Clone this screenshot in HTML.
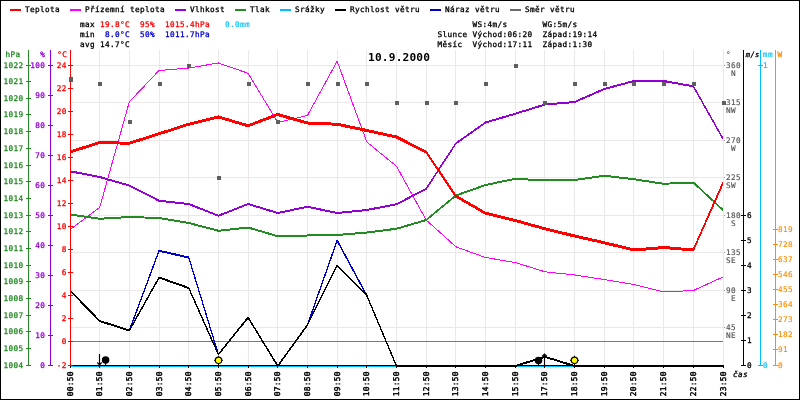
<!DOCTYPE html>
<html lang="cs"><head><meta charset="utf-8"><title>Graf 10.9.2000</title>
<style>html,body{margin:0;padding:0;background:#fff;overflow:hidden}svg{display:block;will-change:transform}text{font-family:"DejaVu Sans Mono","Liberation Mono",monospace;white-space:pre}</style>
</head><body>
<svg width="800" height="400" viewBox="0 0 800 400">
<rect x="0" y="0" width="800" height="400" fill="#fff"/>
<g shape-rendering="crispEdges" stroke="#ece8e8" stroke-width="1">
<line x1="70.5" y1="50" x2="70.5" y2="365"/>
<line x1="99.5" y1="50" x2="99.5" y2="365"/>
<line x1="129.5" y1="50" x2="129.5" y2="365"/>
<line x1="159.5" y1="50" x2="159.5" y2="365"/>
<line x1="188.5" y1="50" x2="188.5" y2="365"/>
<line x1="218.5" y1="50" x2="218.5" y2="365"/>
<line x1="248.5" y1="50" x2="248.5" y2="365"/>
<line x1="277.5" y1="50" x2="277.5" y2="365"/>
<line x1="307.5" y1="50" x2="307.5" y2="365"/>
<line x1="337.5" y1="50" x2="337.5" y2="365"/>
<line x1="366.5" y1="50" x2="366.5" y2="365"/>
<line x1="396.5" y1="50" x2="396.5" y2="365"/>
<line x1="426.5" y1="50" x2="426.5" y2="365"/>
<line x1="455.5" y1="50" x2="455.5" y2="365"/>
<line x1="485.5" y1="50" x2="485.5" y2="365"/>
<line x1="515.5" y1="50" x2="515.5" y2="365"/>
<line x1="544.5" y1="50" x2="544.5" y2="365"/>
<line x1="574.5" y1="50" x2="574.5" y2="365"/>
<line x1="604.5" y1="50" x2="604.5" y2="365"/>
<line x1="633.5" y1="50" x2="633.5" y2="365"/>
<line x1="663.5" y1="50" x2="663.5" y2="365"/>
<line x1="693.5" y1="50" x2="693.5" y2="365"/>
<line x1="723.5" y1="50" x2="723.5" y2="365"/>
<line x1="70" y1="327.5" x2="724" y2="327.5"/>
<line x1="70" y1="290.5" x2="724" y2="290.5"/>
<line x1="70" y1="252.5" x2="724" y2="252.5"/>
<line x1="70" y1="215.5" x2="724" y2="215.5"/>
<line x1="70" y1="177.5" x2="724" y2="177.5"/>
<line x1="70" y1="140.5" x2="724" y2="140.5"/>
<line x1="70" y1="102.5" x2="724" y2="102.5"/>
<line x1="70" y1="65.5" x2="724" y2="65.5"/>
</g>
<line x1="70" y1="341.5" x2="723" y2="341.5" stroke="#7a7a7a" stroke-width="1" shape-rendering="crispEdges"/>
<rect x="70" y="366" width="654" height="1" fill="#00bfff" shape-rendering="crispEdges"/>
<g stroke-linejoin="round" shape-rendering="crispEdges">
<polyline points="70.00,229.50 99.68,207.50 129.36,101.75 159.05,70.50 188.73,68.00 218.41,63.00 248.09,73.25 277.77,122.50 307.45,115.50 337.14,61.25 366.82,142.00 396.50,166.25 426.18,220.00 455.86,246.75 485.55,257.50 515.23,262.50 544.91,271.75 574.59,275.00 604.27,279.50 633.95,284.50 663.64,292.00 693.32,290.50 723.00,277.00" fill="none" stroke="#ff00ff" stroke-width="1"/>
<polygon points="70.00,214.00 99.68,218.25 129.36,216.50 159.05,217.50 188.73,222.50 218.41,230.25 248.09,227.00 277.77,235.75 307.45,235.00 337.14,234.50 366.82,232.00 396.50,228.25 426.18,219.50 455.86,195.00 485.55,184.50 515.23,178.25 544.91,180.00 574.59,179.50 604.27,175.25 633.95,178.75 663.64,183.25 693.32,182.00 723.00,209.50 723.00,210.50 693.32,183.00 663.64,184.25 633.95,179.75 604.27,176.25 574.59,180.50 544.91,181.00 515.23,179.25 485.55,185.50 455.86,196.00 426.18,220.50 396.50,229.25 366.82,233.00 337.14,235.50 307.45,236.00 277.77,236.75 248.09,228.00 218.41,231.25 188.73,223.50 159.05,218.50 129.36,217.50 99.68,219.25 70.00,215.00" fill="#228b22" stroke="#228b22" stroke-width="1"/>
<polygon points="70.00,170.75 99.68,176.50 129.36,185.00 159.05,200.25 188.73,203.50 218.41,215.25 248.09,203.50 277.77,212.50 307.45,206.25 337.14,212.50 366.82,209.50 396.50,203.75 426.18,188.25 455.86,143.00 485.55,122.00 515.23,113.25 544.91,104.00 574.59,101.50 604.27,88.50 633.95,80.50 663.64,80.50 693.32,85.75 723.00,138.25 723.00,139.25 693.32,86.75 663.64,81.50 633.95,81.50 604.27,89.50 574.59,102.50 544.91,105.00 515.23,114.25 485.55,123.00 455.86,144.00 426.18,189.25 396.50,204.75 366.82,210.50 337.14,213.50 307.45,207.25 277.77,213.50 248.09,204.50 218.41,216.25 188.73,204.50 159.05,201.25 129.36,186.00 99.68,177.50 70.00,171.75" fill="#9400d3" stroke="#9400d3" stroke-width="1"/>
<polygon points="70.00,151.00 99.68,141.50 129.36,142.25 159.05,132.75 188.73,123.25 218.41,116.00 248.09,124.75 277.77,113.50 307.45,122.00 337.14,123.25 366.82,129.50 396.50,136.00 426.18,151.00 455.86,195.25 485.55,212.25 515.23,219.50 544.91,227.75 574.59,235.00 604.27,241.75 633.95,249.00 663.64,246.50 693.32,249.00 723.00,182.00 723.00,184.00 693.32,251.00 663.64,248.50 633.95,251.00 604.27,243.75 574.59,237.00 544.91,229.75 515.23,221.50 485.55,214.25 455.86,197.25 426.18,153.00 396.50,138.00 366.82,131.50 337.14,125.25 307.45,124.00 277.77,115.50 248.09,126.75 218.41,118.00 188.73,125.25 159.05,134.75 129.36,144.25 99.68,143.50 70.00,153.00" fill="#ff0000" stroke="#ff0000" stroke-width="1"/>
<polygon points="129.36,330.00 159.05,250.25 188.73,257.00 218.41,354.00 218.41,355.00 188.73,258.00 159.05,251.25 129.36,331.00" fill="#0000cd" stroke="#0000cd" stroke-width="1"/>
<polygon points="307.45,324.50 337.14,240.00 366.82,295.00 366.82,296.00 337.14,241.00 307.45,325.50" fill="#0000cd" stroke="#0000cd" stroke-width="1"/>
<polygon points="70.00,290.00 99.68,320.50 129.36,330.00 159.05,277.00 188.73,287.50 218.41,354.00 248.09,317.00 277.77,365.50 307.45,324.50 337.14,265.00 366.82,295.00 396.50,365.50 426.18,365.50 455.86,365.50 485.55,365.50 515.23,365.50 544.91,356.30 574.59,365.50 604.27,365.50 633.95,365.50 663.64,365.50 693.32,365.50 723.00,365.50 723.00,366.50 693.32,366.50 663.64,366.50 633.95,366.50 604.27,366.50 574.59,366.50 544.91,357.30 515.23,366.50 485.55,366.50 455.86,366.50 426.18,366.50 396.50,366.50 366.82,296.00 337.14,266.00 307.45,325.50 277.77,366.50 248.09,318.00 218.41,355.00 188.73,288.50 159.05,278.00 129.36,331.00 99.68,321.50 70.00,291.00" fill="#000" stroke="#000" stroke-width="1"/>
</g>
<rect x="396" y="365" width="120" height="2" fill="#000" shape-rendering="crispEdges"/>
<rect x="574" y="365" width="150" height="2" fill="#000" shape-rendering="crispEdges"/>
<g shape-rendering="crispEdges" stroke="#000" stroke-width="1">
<line x1="70" y1="365.5" x2="724" y2="365.5"/>
<line x1="70.5" y1="365" x2="70.5" y2="368"/>
<line x1="99.5" y1="365" x2="99.5" y2="368"/>
<line x1="129.5" y1="365" x2="129.5" y2="368"/>
<line x1="159.5" y1="365" x2="159.5" y2="368"/>
<line x1="188.5" y1="365" x2="188.5" y2="368"/>
<line x1="218.5" y1="365" x2="218.5" y2="368"/>
<line x1="248.5" y1="365" x2="248.5" y2="368"/>
<line x1="277.5" y1="365" x2="277.5" y2="368"/>
<line x1="307.5" y1="365" x2="307.5" y2="368"/>
<line x1="337.5" y1="365" x2="337.5" y2="368"/>
<line x1="366.5" y1="365" x2="366.5" y2="368"/>
<line x1="396.5" y1="365" x2="396.5" y2="368"/>
<line x1="426.5" y1="365" x2="426.5" y2="368"/>
<line x1="455.5" y1="365" x2="455.5" y2="368"/>
<line x1="485.5" y1="365" x2="485.5" y2="368"/>
<line x1="515.5" y1="365" x2="515.5" y2="368"/>
<line x1="544.5" y1="365" x2="544.5" y2="368"/>
<line x1="574.5" y1="365" x2="574.5" y2="368"/>
<line x1="604.5" y1="365" x2="604.5" y2="368"/>
<line x1="633.5" y1="365" x2="633.5" y2="368"/>
<line x1="663.5" y1="365" x2="663.5" y2="368"/>
<line x1="693.5" y1="365" x2="693.5" y2="368"/>
<line x1="723.5" y1="365" x2="723.5" y2="368"/>
</g>
<g shape-rendering="crispEdges" stroke="#228b22" stroke-width="1">
<line x1="28.5" y1="50" x2="28.5" y2="366"/>
<line x1="26" y1="365.5" x2="31" y2="365.5"/>
<line x1="26" y1="348.5" x2="31" y2="348.5"/>
<line x1="26" y1="331.5" x2="31" y2="331.5"/>
<line x1="26" y1="315.5" x2="31" y2="315.5"/>
<line x1="26" y1="298.5" x2="31" y2="298.5"/>
<line x1="26" y1="281.5" x2="31" y2="281.5"/>
<line x1="26" y1="265.5" x2="31" y2="265.5"/>
<line x1="26" y1="248.5" x2="31" y2="248.5"/>
<line x1="26" y1="231.5" x2="31" y2="231.5"/>
<line x1="26" y1="215.5" x2="31" y2="215.5"/>
<line x1="26" y1="198.5" x2="31" y2="198.5"/>
<line x1="26" y1="181.5" x2="31" y2="181.5"/>
<line x1="26" y1="165.5" x2="31" y2="165.5"/>
<line x1="26" y1="148.5" x2="31" y2="148.5"/>
<line x1="26" y1="131.5" x2="31" y2="131.5"/>
<line x1="26" y1="114.5" x2="31" y2="114.5"/>
<line x1="26" y1="98.5" x2="31" y2="98.5"/>
<line x1="26" y1="81.5" x2="31" y2="81.5"/>
<line x1="26" y1="65.5" x2="31" y2="65.5"/>
</g>
<text x="3.56 8.56 13.56 18.56" y="367.90" fill="#228b22" font-weight="normal" stroke="#228b22" stroke-width="0.3" font-size="7.7">1004</text>
<text x="3.56 8.56 13.56 18.56" y="350.90" fill="#228b22" font-weight="normal" stroke="#228b22" stroke-width="0.3" font-size="7.7">1005</text>
<text x="3.56 8.56 13.56 18.56" y="333.90" fill="#228b22" font-weight="normal" stroke="#228b22" stroke-width="0.3" font-size="7.7">1006</text>
<text x="3.56 8.56 13.56 18.56" y="317.90" fill="#228b22" font-weight="normal" stroke="#228b22" stroke-width="0.3" font-size="7.7">1007</text>
<text x="3.56 8.56 13.56 18.56" y="300.90" fill="#228b22" font-weight="normal" stroke="#228b22" stroke-width="0.3" font-size="7.7">1008</text>
<text x="3.56 8.56 13.56 18.56" y="283.90" fill="#228b22" font-weight="normal" stroke="#228b22" stroke-width="0.3" font-size="7.7">1009</text>
<text x="3.56 8.56 13.56 18.56" y="267.90" fill="#228b22" font-weight="normal" stroke="#228b22" stroke-width="0.3" font-size="7.7">1010</text>
<text x="3.56 8.56 13.56 18.56" y="250.90" fill="#228b22" font-weight="normal" stroke="#228b22" stroke-width="0.3" font-size="7.7">1011</text>
<text x="3.56 8.56 13.56 18.56" y="233.90" fill="#228b22" font-weight="normal" stroke="#228b22" stroke-width="0.3" font-size="7.7">1012</text>
<text x="3.56 8.56 13.56 18.56" y="217.90" fill="#228b22" font-weight="normal" stroke="#228b22" stroke-width="0.3" font-size="7.7">1013</text>
<text x="3.56 8.56 13.56 18.56" y="200.90" fill="#228b22" font-weight="normal" stroke="#228b22" stroke-width="0.3" font-size="7.7">1014</text>
<text x="3.56 8.56 13.56 18.56" y="183.90" fill="#228b22" font-weight="normal" stroke="#228b22" stroke-width="0.3" font-size="7.7">1015</text>
<text x="3.56 8.56 13.56 18.56" y="167.90" fill="#228b22" font-weight="normal" stroke="#228b22" stroke-width="0.3" font-size="7.7">1016</text>
<text x="3.56 8.56 13.56 18.56" y="150.90" fill="#228b22" font-weight="normal" stroke="#228b22" stroke-width="0.3" font-size="7.7">1017</text>
<text x="3.56 8.56 13.56 18.56" y="133.90" fill="#228b22" font-weight="normal" stroke="#228b22" stroke-width="0.3" font-size="7.7">1018</text>
<text x="3.56 8.56 13.56 18.56" y="116.90" fill="#228b22" font-weight="normal" stroke="#228b22" stroke-width="0.3" font-size="7.7">1019</text>
<text x="3.56 8.56 13.56 18.56" y="100.90" fill="#228b22" font-weight="normal" stroke="#228b22" stroke-width="0.3" font-size="7.7">1020</text>
<text x="3.56 8.56 13.56 18.56" y="83.90" fill="#228b22" font-weight="normal" stroke="#228b22" stroke-width="0.3" font-size="7.7">1021</text>
<text x="3.56 8.56 13.56 18.56" y="67.90" fill="#228b22" font-weight="normal" stroke="#228b22" stroke-width="0.3" font-size="7.7">1022</text>
<g shape-rendering="crispEdges" stroke="#9400d3" stroke-width="1">
<line x1="50.5" y1="50" x2="50.5" y2="366"/>
<line x1="48" y1="365.5" x2="53" y2="365.5"/>
<line x1="48" y1="335.5" x2="53" y2="335.5"/>
<line x1="48" y1="305.5" x2="53" y2="305.5"/>
<line x1="48" y1="275.5" x2="53" y2="275.5"/>
<line x1="48" y1="245.5" x2="53" y2="245.5"/>
<line x1="48" y1="215.5" x2="53" y2="215.5"/>
<line x1="48" y1="185.5" x2="53" y2="185.5"/>
<line x1="48" y1="155.5" x2="53" y2="155.5"/>
<line x1="48" y1="125.5" x2="53" y2="125.5"/>
<line x1="48" y1="95.5" x2="53" y2="95.5"/>
<line x1="48" y1="65.5" x2="53" y2="65.5"/>
</g>
<text x="40.26" y="367.90" fill="#9400d3" font-weight="normal" stroke="#9400d3" stroke-width="0.3" font-size="7.7">0</text>
<text x="35.26 40.26" y="337.90" fill="#9400d3" font-weight="normal" stroke="#9400d3" stroke-width="0.3" font-size="7.7">10</text>
<text x="35.26 40.26" y="307.90" fill="#9400d3" font-weight="normal" stroke="#9400d3" stroke-width="0.3" font-size="7.7">20</text>
<text x="35.26 40.26" y="277.90" fill="#9400d3" font-weight="normal" stroke="#9400d3" stroke-width="0.3" font-size="7.7">30</text>
<text x="35.26 40.26" y="247.90" fill="#9400d3" font-weight="normal" stroke="#9400d3" stroke-width="0.3" font-size="7.7">40</text>
<text x="35.26 40.26" y="217.90" fill="#9400d3" font-weight="normal" stroke="#9400d3" stroke-width="0.3" font-size="7.7">50</text>
<text x="35.26 40.26" y="187.90" fill="#9400d3" font-weight="normal" stroke="#9400d3" stroke-width="0.3" font-size="7.7">60</text>
<text x="35.26 40.26" y="157.90" fill="#9400d3" font-weight="normal" stroke="#9400d3" stroke-width="0.3" font-size="7.7">70</text>
<text x="35.26 40.26" y="127.90" fill="#9400d3" font-weight="normal" stroke="#9400d3" stroke-width="0.3" font-size="7.7">80</text>
<text x="35.26 40.26" y="97.90" fill="#9400d3" font-weight="normal" stroke="#9400d3" stroke-width="0.3" font-size="7.7">90</text>
<text x="30.26 35.26 40.26" y="67.90" fill="#9400d3" font-weight="normal" stroke="#9400d3" stroke-width="0.3" font-size="7.7">100</text>
<g shape-rendering="crispEdges" stroke="#ff0000" stroke-width="1">
<line x1="70.5" y1="50" x2="70.5" y2="366"/>
<line x1="68" y1="365.5" x2="73" y2="365.5"/>
<line x1="68" y1="341.5" x2="73" y2="341.5"/>
<line x1="68" y1="318.5" x2="73" y2="318.5"/>
<line x1="68" y1="295.5" x2="73" y2="295.5"/>
<line x1="68" y1="272.5" x2="73" y2="272.5"/>
<line x1="68" y1="249.5" x2="73" y2="249.5"/>
<line x1="68" y1="226.5" x2="73" y2="226.5"/>
<line x1="68" y1="203.5" x2="73" y2="203.5"/>
<line x1="68" y1="180.5" x2="73" y2="180.5"/>
<line x1="68" y1="157.5" x2="73" y2="157.5"/>
<line x1="68" y1="134.5" x2="73" y2="134.5"/>
<line x1="68" y1="111.5" x2="73" y2="111.5"/>
<line x1="68" y1="88.5" x2="73" y2="88.5"/>
<line x1="68" y1="65.5" x2="73" y2="65.5"/>
</g>
<text x="56.86 61.86" y="367.90" fill="#ff0000" font-weight="normal" stroke="#ff0000" stroke-width="0.3" font-size="7.7">-2</text>
<text x="61.86" y="343.90" fill="#ff0000" font-weight="normal" stroke="#ff0000" stroke-width="0.3" font-size="7.7">0</text>
<text x="61.86" y="320.90" fill="#ff0000" font-weight="normal" stroke="#ff0000" stroke-width="0.3" font-size="7.7">2</text>
<text x="61.86" y="297.90" fill="#ff0000" font-weight="normal" stroke="#ff0000" stroke-width="0.3" font-size="7.7">4</text>
<text x="61.86" y="274.90" fill="#ff0000" font-weight="normal" stroke="#ff0000" stroke-width="0.3" font-size="7.7">6</text>
<text x="61.86" y="251.90" fill="#ff0000" font-weight="normal" stroke="#ff0000" stroke-width="0.3" font-size="7.7">8</text>
<text x="56.86 61.86" y="228.90" fill="#ff0000" font-weight="normal" stroke="#ff0000" stroke-width="0.3" font-size="7.7">10</text>
<text x="56.86 61.86" y="205.90" fill="#ff0000" font-weight="normal" stroke="#ff0000" stroke-width="0.3" font-size="7.7">12</text>
<text x="56.86 61.86" y="182.90" fill="#ff0000" font-weight="normal" stroke="#ff0000" stroke-width="0.3" font-size="7.7">14</text>
<text x="56.86 61.86" y="159.90" fill="#ff0000" font-weight="normal" stroke="#ff0000" stroke-width="0.3" font-size="7.7">16</text>
<text x="56.86 61.86" y="136.90" fill="#ff0000" font-weight="normal" stroke="#ff0000" stroke-width="0.3" font-size="7.7">18</text>
<text x="56.86 61.86" y="113.90" fill="#ff0000" font-weight="normal" stroke="#ff0000" stroke-width="0.3" font-size="7.7">20</text>
<text x="56.86 61.86" y="90.90" fill="#ff0000" font-weight="normal" stroke="#ff0000" stroke-width="0.3" font-size="7.7">22</text>
<text x="56.86 61.86" y="67.90" fill="#ff0000" font-weight="normal" stroke="#ff0000" stroke-width="0.3" font-size="7.7">24</text>
<text x="5.50 10.50 15.50" y="56.80" fill="#228b22" font-weight="normal" stroke="#228b22" stroke-width="0.3" font-size="7.7">hPa</text>
<text x="40.30" y="56.80" fill="#9400d3" font-weight="normal" stroke="#9400d3" stroke-width="0.3" font-size="7.7">%</text>
<text x="57.30 62.30" y="56.80" fill="#ff0000" font-weight="normal" stroke="#ff0000" stroke-width="0.3" font-size="7.7">°C</text>
<g shape-rendering="crispEdges" stroke="#ece8e8" stroke-width="1">
<line x1="723.5" y1="50" x2="723.5" y2="365"/>
</g>
<rect x="724" y="327" width="1" height="1" fill="#999" shape-rendering="crispEdges"/>
<text x="726.00 731.00" y="329.90" fill="#555" font-weight="normal" stroke="#555" stroke-width="0.15" font-size="7.7">45</text>
<text x="726.06 731.06" y="337.90" fill="#555" font-weight="normal" stroke="#555" stroke-width="0.15" font-size="7.7">NE</text>
<rect x="724" y="290" width="1" height="1" fill="#999" shape-rendering="crispEdges"/>
<text x="726.00 731.00" y="292.90" fill="#555" font-weight="normal" stroke="#555" stroke-width="0.15" font-size="7.7">90</text>
<text x="731.06" y="300.90" fill="#555" font-weight="normal" stroke="#555" stroke-width="0.15" font-size="7.7">E</text>
<rect x="724" y="252" width="1" height="1" fill="#999" shape-rendering="crispEdges"/>
<text x="726.00 731.00 736.00" y="254.90" fill="#555" font-weight="normal" stroke="#555" stroke-width="0.15" font-size="7.7">135</text>
<text x="726.06 731.06" y="262.90" fill="#555" font-weight="normal" stroke="#555" stroke-width="0.15" font-size="7.7">SE</text>
<rect x="724" y="215" width="1" height="1" fill="#999" shape-rendering="crispEdges"/>
<text x="726.00 731.00 736.00" y="217.90" fill="#555" font-weight="normal" stroke="#555" stroke-width="0.15" font-size="7.7">180</text>
<text x="731.06" y="225.90" fill="#555" font-weight="normal" stroke="#555" stroke-width="0.15" font-size="7.7">S</text>
<rect x="724" y="177" width="1" height="1" fill="#999" shape-rendering="crispEdges"/>
<text x="726.00 731.00 736.00" y="179.90" fill="#555" font-weight="normal" stroke="#555" stroke-width="0.15" font-size="7.7">225</text>
<text x="726.06 731.06" y="187.90" fill="#555" font-weight="normal" stroke="#555" stroke-width="0.15" font-size="7.7">SW</text>
<rect x="724" y="140" width="1" height="1" fill="#999" shape-rendering="crispEdges"/>
<text x="726.00 731.00 736.00" y="142.90" fill="#555" font-weight="normal" stroke="#555" stroke-width="0.15" font-size="7.7">270</text>
<text x="731.06" y="150.90" fill="#555" font-weight="normal" stroke="#555" stroke-width="0.15" font-size="7.7">W</text>
<rect x="724" y="102" width="1" height="1" fill="#999" shape-rendering="crispEdges"/>
<text x="726.00 731.00 736.00" y="104.90" fill="#555" font-weight="normal" stroke="#555" stroke-width="0.15" font-size="7.7">315</text>
<text x="726.06 731.06" y="112.90" fill="#555" font-weight="normal" stroke="#555" stroke-width="0.15" font-size="7.7">NW</text>
<rect x="724" y="65" width="1" height="1" fill="#999" shape-rendering="crispEdges"/>
<text x="726.00 731.00 736.00" y="67.90" fill="#555" font-weight="normal" stroke="#555" stroke-width="0.15" font-size="7.7">360</text>
<text x="731.06" y="75.90" fill="#555" font-weight="normal" stroke="#555" stroke-width="0.15" font-size="7.7">N</text>
<text x="726.00" y="57.00" fill="#555" font-weight="normal" stroke="#555" stroke-width="0.15" font-size="7.7">°</text>
<g shape-rendering="crispEdges" stroke="#000" stroke-width="1">
<line x1="743.5" y1="50" x2="743.5" y2="366"/>
<line x1="741" y1="365.5" x2="746" y2="365.5"/>
<line x1="741" y1="340.5" x2="746" y2="340.5"/>
<line x1="741" y1="315.5" x2="746" y2="315.5"/>
<line x1="741" y1="290.5" x2="746" y2="290.5"/>
<line x1="741" y1="265.5" x2="746" y2="265.5"/>
<line x1="741" y1="240.5" x2="746" y2="240.5"/>
<line x1="741" y1="215.5" x2="746" y2="215.5"/>
</g>
<text x="747.00" y="367.90" fill="#000" font-weight="normal" stroke="#000" stroke-width="0.3" font-size="7.7">0</text>
<text x="747.00" y="342.90" fill="#000" font-weight="normal" stroke="#000" stroke-width="0.3" font-size="7.7">1</text>
<text x="747.00" y="317.90" fill="#000" font-weight="normal" stroke="#000" stroke-width="0.3" font-size="7.7">2</text>
<text x="747.00" y="292.90" fill="#000" font-weight="normal" stroke="#000" stroke-width="0.3" font-size="7.7">3</text>
<text x="747.00" y="267.90" fill="#000" font-weight="normal" stroke="#000" stroke-width="0.3" font-size="7.7">4</text>
<text x="747.00" y="242.90" fill="#000" font-weight="normal" stroke="#000" stroke-width="0.3" font-size="7.7">5</text>
<text x="747.00" y="217.90" fill="#000" font-weight="normal" stroke="#000" stroke-width="0.3" font-size="7.7">6</text>
<g shape-rendering="crispEdges" stroke="#00bfff" stroke-width="1">
<line x1="760.5" y1="50" x2="760.5" y2="366"/>
<line x1="758" y1="365.5" x2="763" y2="365.5"/>
<line x1="758" y1="65.5" x2="763" y2="65.5"/>
</g>
<text x="763.00" y="367.90" fill="#00bfff" font-weight="normal" stroke="#00bfff" stroke-width="0.15" font-size="7.7">0</text>
<text x="763.00" y="67.90" fill="#00bfff" font-weight="normal" stroke="#00bfff" stroke-width="0.15" font-size="7.7">1</text>
<g shape-rendering="crispEdges" stroke="#ff8c00" stroke-width="1">
<line x1="775.5" y1="50" x2="775.5" y2="366"/>
<line x1="773" y1="365.5" x2="778" y2="365.5"/>
<line x1="773" y1="349.5" x2="778" y2="349.5"/>
<line x1="773" y1="334.5" x2="778" y2="334.5"/>
<line x1="773" y1="319.5" x2="778" y2="319.5"/>
<line x1="773" y1="304.5" x2="778" y2="304.5"/>
<line x1="773" y1="289.5" x2="778" y2="289.5"/>
<line x1="773" y1="274.5" x2="778" y2="274.5"/>
<line x1="773" y1="259.5" x2="778" y2="259.5"/>
<line x1="773" y1="244.5" x2="778" y2="244.5"/>
<line x1="773" y1="229.5" x2="778" y2="229.5"/>
</g>
<text x="778.00" y="367.90" fill="#ff8c00" font-weight="normal" stroke="#ff8c00" stroke-width="0.15" font-size="7.7">0</text>
<text x="778.00 783.00" y="351.90" fill="#ff8c00" font-weight="normal" stroke="#ff8c00" stroke-width="0.15" font-size="7.7">91</text>
<text x="778.00 783.00 788.00" y="336.90" fill="#ff8c00" font-weight="normal" stroke="#ff8c00" stroke-width="0.15" font-size="7.7">182</text>
<text x="778.00 783.00 788.00" y="321.90" fill="#ff8c00" font-weight="normal" stroke="#ff8c00" stroke-width="0.15" font-size="7.7">273</text>
<text x="778.00 783.00 788.00" y="306.90" fill="#ff8c00" font-weight="normal" stroke="#ff8c00" stroke-width="0.15" font-size="7.7">364</text>
<text x="778.00 783.00 788.00" y="291.90" fill="#ff8c00" font-weight="normal" stroke="#ff8c00" stroke-width="0.15" font-size="7.7">455</text>
<text x="778.00 783.00 788.00" y="276.90" fill="#ff8c00" font-weight="normal" stroke="#ff8c00" stroke-width="0.15" font-size="7.7">546</text>
<text x="778.00 783.00 788.00" y="261.90" fill="#ff8c00" font-weight="normal" stroke="#ff8c00" stroke-width="0.15" font-size="7.7">637</text>
<text x="778.00 783.00 788.00" y="246.90" fill="#ff8c00" font-weight="normal" stroke="#ff8c00" stroke-width="0.15" font-size="7.7">728</text>
<text x="778.00 783.00 788.00" y="231.90" fill="#ff8c00" font-weight="normal" stroke="#ff8c00" stroke-width="0.15" font-size="7.7">819</text>
<text x="745.80 750.40 755.00" y="57.00" fill="#000" font-weight="normal" stroke="#000" stroke-width="0.3" font-size="7.2" font-style="italic">m/s</text>
<text x="762.80 768.00" y="57.00" fill="#00bfff" font-weight="normal" stroke="#00bfff" stroke-width="0.15" font-size="7.7">mm</text>
<text x="777.50" y="57.00" fill="#ff8c00" font-weight="normal" stroke="#ff8c00" stroke-width="0.3" font-size="7.7">W</text>
<text x="733.00 738.00 743.00" y="376.80" fill="#000" font-weight="normal" stroke="#000" stroke-width="0.3" font-size="7.7" font-style="italic">čas</text>
<g fill="#5f5f5f" shape-rendering="crispEdges">
<rect x="69" y="77" width="4" height="5"/>
<rect x="98" y="82" width="4" height="4"/>
<rect x="128" y="120" width="4" height="4"/>
<rect x="158" y="82" width="4" height="4"/>
<rect x="187" y="64" width="4" height="4"/>
<rect x="217" y="176" width="4" height="4"/>
<rect x="247" y="82" width="4" height="4"/>
<rect x="276" y="120" width="4" height="4"/>
<rect x="306" y="82" width="4" height="4"/>
<rect x="336" y="82" width="4" height="4"/>
<rect x="365" y="82" width="4" height="4"/>
<rect x="395" y="101" width="4" height="4"/>
<rect x="425" y="101" width="4" height="4"/>
<rect x="454" y="101" width="4" height="4"/>
<rect x="484" y="82" width="4" height="4"/>
<rect x="514" y="64" width="4" height="4"/>
<rect x="543" y="101" width="4" height="4"/>
<rect x="573" y="82" width="4" height="4"/>
<rect x="603" y="82" width="4" height="4"/>
<rect x="632" y="82" width="4" height="4"/>
<rect x="662" y="82" width="4" height="4"/>
<rect x="692" y="82" width="4" height="4"/>
<rect x="722" y="101" width="4" height="4"/>
</g>
<text transform="translate(73.1,396.3) rotate(-90)" x="0.00 5.00 10.00 15.00 20.00" y="0" fill="#000" stroke="#000" stroke-width="0.45" font-size="7.9">00:50</text>
<text transform="translate(102.1,396.3) rotate(-90)" x="0.00 5.00 10.00 15.00 20.00" y="0" fill="#000" stroke="#000" stroke-width="0.45" font-size="7.9">01:50</text>
<text transform="translate(132.1,396.3) rotate(-90)" x="0.00 5.00 10.00 15.00 20.00" y="0" fill="#000" stroke="#000" stroke-width="0.45" font-size="7.9">02:50</text>
<text transform="translate(162.1,396.3) rotate(-90)" x="0.00 5.00 10.00 15.00 20.00" y="0" fill="#000" stroke="#000" stroke-width="0.45" font-size="7.9">03:50</text>
<text transform="translate(191.1,396.3) rotate(-90)" x="0.00 5.00 10.00 15.00 20.00" y="0" fill="#000" stroke="#000" stroke-width="0.45" font-size="7.9">04:50</text>
<text transform="translate(221.1,396.3) rotate(-90)" x="0.00 5.00 10.00 15.00 20.00" y="0" fill="#000" stroke="#000" stroke-width="0.45" font-size="7.9">05:50</text>
<text transform="translate(251.1,396.3) rotate(-90)" x="0.00 5.00 10.00 15.00 20.00" y="0" fill="#000" stroke="#000" stroke-width="0.45" font-size="7.9">06:50</text>
<text transform="translate(280.1,396.3) rotate(-90)" x="0.00 5.00 10.00 15.00 20.00" y="0" fill="#000" stroke="#000" stroke-width="0.45" font-size="7.9">07:50</text>
<text transform="translate(310.1,396.3) rotate(-90)" x="0.00 5.00 10.00 15.00 20.00" y="0" fill="#000" stroke="#000" stroke-width="0.45" font-size="7.9">08:50</text>
<text transform="translate(340.1,396.3) rotate(-90)" x="0.00 5.00 10.00 15.00 20.00" y="0" fill="#000" stroke="#000" stroke-width="0.45" font-size="7.9">09:50</text>
<text transform="translate(369.1,396.3) rotate(-90)" x="0.00 5.00 10.00 15.00 20.00" y="0" fill="#000" stroke="#000" stroke-width="0.45" font-size="7.9">10:50</text>
<text transform="translate(399.1,396.3) rotate(-90)" x="0.00 5.00 10.00 15.00 20.00" y="0" fill="#000" stroke="#000" stroke-width="0.45" font-size="7.9">11:50</text>
<text transform="translate(429.1,396.3) rotate(-90)" x="0.00 5.00 10.00 15.00 20.00" y="0" fill="#000" stroke="#000" stroke-width="0.45" font-size="7.9">12:50</text>
<text transform="translate(458.1,396.3) rotate(-90)" x="0.00 5.00 10.00 15.00 20.00" y="0" fill="#000" stroke="#000" stroke-width="0.45" font-size="7.9">13:50</text>
<text transform="translate(488.1,396.3) rotate(-90)" x="0.00 5.00 10.00 15.00 20.00" y="0" fill="#000" stroke="#000" stroke-width="0.45" font-size="7.9">14:50</text>
<text transform="translate(518.1,396.3) rotate(-90)" x="0.00 5.00 10.00 15.00 20.00" y="0" fill="#000" stroke="#000" stroke-width="0.45" font-size="7.9">15:50</text>
<text transform="translate(547.1,396.3) rotate(-90)" x="0.00 5.00 10.00 15.00 20.00" y="0" fill="#000" stroke="#000" stroke-width="0.45" font-size="7.9">17:50</text>
<text transform="translate(577.1,396.3) rotate(-90)" x="0.00 5.00 10.00 15.00 20.00" y="0" fill="#000" stroke="#000" stroke-width="0.45" font-size="7.9">18:50</text>
<text transform="translate(607.1,396.3) rotate(-90)" x="0.00 5.00 10.00 15.00 20.00" y="0" fill="#000" stroke="#000" stroke-width="0.45" font-size="7.9">19:50</text>
<text transform="translate(636.1,396.3) rotate(-90)" x="0.00 5.00 10.00 15.00 20.00" y="0" fill="#000" stroke="#000" stroke-width="0.45" font-size="7.9">20:50</text>
<text transform="translate(666.1,396.3) rotate(-90)" x="0.00 5.00 10.00 15.00 20.00" y="0" fill="#000" stroke="#000" stroke-width="0.45" font-size="7.9">21:50</text>
<text transform="translate(696.1,396.3) rotate(-90)" x="0.00 5.00 10.00 15.00 20.00" y="0" fill="#000" stroke="#000" stroke-width="0.45" font-size="7.9">22:50</text>
<text transform="translate(726.1,396.3) rotate(-90)" x="0.00 5.00 10.00 15.00 20.00" y="0" fill="#000" stroke="#000" stroke-width="0.45" font-size="7.9">23:50</text>
<rect x="10" y="9" width="11" height="2" fill="#ff0000" shape-rendering="crispEdges"/>
<text x="25.00 30.00 35.00 40.00 45.00 50.00 55.00" y="11.80" fill="#000" font-weight="normal" stroke="#000" stroke-width="0.3" font-size="7.7">Teplota</text>
<rect x="70" y="9" width="11" height="2" fill="#ff00ff" shape-rendering="crispEdges"/>
<text x="85.00 90.00 95.00 100.00 105.00 110.00 115.00 120.00 125.00 130.00 135.00 140.00 145.00 150.00 155.00 160.00" y="11.80" fill="#000" font-weight="normal" stroke="#000" stroke-width="0.3" font-size="7.7">Přízemní teplota</text>
<rect x="175" y="9" width="11" height="2" fill="#9400d3" shape-rendering="crispEdges"/>
<text x="190.00 195.00 200.00 205.00 210.00 215.00 220.00" y="11.80" fill="#000" font-weight="normal" stroke="#000" stroke-width="0.3" font-size="7.7">Vlhkost</text>
<rect x="235" y="9" width="11" height="2" fill="#228b22" shape-rendering="crispEdges"/>
<text x="250.00 255.00 260.00 265.00" y="11.80" fill="#000" font-weight="normal" stroke="#000" stroke-width="0.3" font-size="7.7">Tlak</text>
<rect x="280" y="9" width="11" height="2" fill="#00bfff" shape-rendering="crispEdges"/>
<text x="295.00 300.00 305.00 310.00 315.00 320.00" y="11.80" fill="#000" font-weight="normal" stroke="#000" stroke-width="0.3" font-size="7.7">Srážky</text>
<rect x="335" y="9" width="11" height="2" fill="#000" shape-rendering="crispEdges"/>
<text x="350.00 355.00 360.00 365.00 370.00 375.00 380.00 385.00 390.00 395.00 400.00 405.00 410.00 415.00" y="11.80" fill="#000" font-weight="normal" stroke="#000" stroke-width="0.3" font-size="7.7">Rychlost větru</text>
<rect x="430" y="9" width="11" height="2" fill="#0000cd" shape-rendering="crispEdges"/>
<text x="445.00 450.00 455.00 460.00 465.00 470.00 475.00 480.00 485.00 490.00 495.00" y="11.80" fill="#000" font-weight="normal" stroke="#000" stroke-width="0.3" font-size="7.7">Náraz větru</text>
<rect x="510" y="9" width="11" height="2" fill="#696969" shape-rendering="crispEdges"/>
<text x="525.00 530.00 535.00 540.00 545.00 550.00 555.00 560.00 565.00 570.00" y="11.80" fill="#000" font-weight="normal" stroke="#000" stroke-width="0.3" font-size="7.7">Směr větru</text>
<text x="80.00 85.00 90.00" y="26.80" fill="#000" font-weight="normal" stroke="#000" stroke-width="0.3" font-size="7.7">max</text>
<text x="100.00 105.00 110.00 115.00 120.00 125.00" y="26.80" fill="#ff0000" font-weight="normal" stroke="#ff0000" stroke-width="0.3" font-size="7.7">19.8°C</text>
<text x="140.00 145.00 150.00" y="26.80" fill="#ff0000" font-weight="normal" stroke="#ff0000" stroke-width="0.3" font-size="7.7">95%</text>
<text x="165.00 170.00 175.00 180.00 185.00 190.00 195.00 200.00 205.00" y="26.80" fill="#ff0000" font-weight="normal" stroke="#ff0000" stroke-width="0.3" font-size="7.7">1015.4hPa</text>
<text x="225.00 230.00 235.00 240.00 245.00" y="26.80" fill="#00bfff" font-weight="normal" stroke="#00bfff" stroke-width="0.15" font-size="7.7">0.0mm</text>
<text x="80.00 85.00 90.00" y="36.80" fill="#000" font-weight="normal" stroke="#000" stroke-width="0.3" font-size="7.7">min</text>
<text x="105.00 110.00 115.00 120.00 125.00" y="36.80" fill="#0000cd" font-weight="normal" stroke="#0000cd" stroke-width="0.3" font-size="7.7">8.0°C</text>
<text x="140.00 145.00 150.00" y="36.80" fill="#0000cd" font-weight="normal" stroke="#0000cd" stroke-width="0.3" font-size="7.7">50%</text>
<text x="165.00 170.00 175.00 180.00 185.00 190.00 195.00 200.00 205.00" y="36.80" fill="#0000cd" font-weight="normal" stroke="#0000cd" stroke-width="0.3" font-size="7.7">1011.7hPa</text>
<text x="80.00 85.00 90.00" y="46.80" fill="#000" font-weight="normal" stroke="#000" stroke-width="0.3" font-size="7.7">avg</text>
<text x="100.00 105.00 110.00 115.00 120.00 125.00" y="46.80" fill="#000" font-weight="normal" stroke="#000" stroke-width="0.3" font-size="7.7">14.7°C</text>
<text x="472.50 477.50 482.50 487.50 492.50 497.50 502.50" y="26.80" fill="#000" font-weight="normal" stroke="#000" stroke-width="0.3" font-size="7.7">WS:4m/s</text>
<text x="542.50 547.50 552.50 557.50 562.50 567.50 572.50" y="26.80" fill="#000" font-weight="normal" stroke="#000" stroke-width="0.3" font-size="7.7">WG:5m/s</text>
<text x="437.50 442.50 447.50 452.50 457.50 462.50" y="36.80" fill="#000" font-weight="normal" stroke="#000" stroke-width="0.3" font-size="7.7">Slunce</text>
<text x="472.50 477.50 482.50 487.50 492.50 497.50 502.50 507.50 512.50 517.50 522.50 527.50" y="36.80" fill="#000" font-weight="normal" stroke="#000" stroke-width="0.3" font-size="7.7">Východ:06:20</text>
<text x="542.50 547.50 552.50 557.50 562.50 567.50 572.50 577.50 582.50 587.50 592.50" y="36.80" fill="#000" font-weight="normal" stroke="#000" stroke-width="0.3" font-size="7.7">Západ:19:14</text>
<text x="437.50 442.50 447.50 452.50 457.50" y="46.80" fill="#000" font-weight="normal" stroke="#000" stroke-width="0.3" font-size="7.7">Měsíc</text>
<text x="472.50 477.50 482.50 487.50 492.50 497.50 502.50 507.50 512.50 517.50 522.50 527.50" y="46.80" fill="#000" font-weight="normal" stroke="#000" stroke-width="0.3" font-size="7.7">Východ:17:11</text>
<text x="542.50 547.50 552.50 557.50 562.50 567.50 572.50 577.50 582.50 587.50" y="46.80" fill="#000" font-weight="normal" stroke="#000" stroke-width="0.3" font-size="7.7">Západ:1:30</text>
<text x="368.03 374.93 381.83 388.73 395.63 402.53 409.43 416.33 423.23" y="61.20" fill="#000" font-weight="bold" font-size="11.2">10.9.2000</text>
<g stroke="#000" stroke-width="1">
<line x1="214.0" y1="360.3" x2="223.0" y2="360.3"/>
<line x1="218.5" y1="355.8" x2="218.5" y2="365.3"/>
<circle cx="218.5" cy="360.3" r="3.2" fill="#ffff00" stroke-width="1.15"/>
</g>
<g stroke="#000" stroke-width="1">
<line x1="570.0" y1="360.3" x2="579.0" y2="360.3"/>
<line x1="574.5" y1="355.8" x2="574.5" y2="365.3"/>
<circle cx="574.5" cy="360.3" r="3.2" fill="#ffff00" stroke-width="1.15"/>
</g>
<line x1="105.6" y1="360.1" x2="105.6" y2="365" stroke="#000" stroke-width="1"/>
<circle cx="105.6" cy="360.1" r="3.75" fill="#000"/>
<line x1="538.5" y1="360.4" x2="538.5" y2="365" stroke="#000" stroke-width="1"/>
<circle cx="538.5" cy="360.4" r="3.75" fill="#000"/>
<g stroke="#000" stroke-width="1.15" fill="none">
<path d="M99.5 354 V368 M97.3 362.5 L99.5 365 L101.7 362.5"/>
<path d="M544.5 354 V368 M542 356.5 L544.5 354 L547 356.5"/>
</g>
<rect x="0.5" y="0.5" width="799" height="399" fill="none" stroke="#000" stroke-width="1" shape-rendering="crispEdges"/>
</svg>
</body></html>
